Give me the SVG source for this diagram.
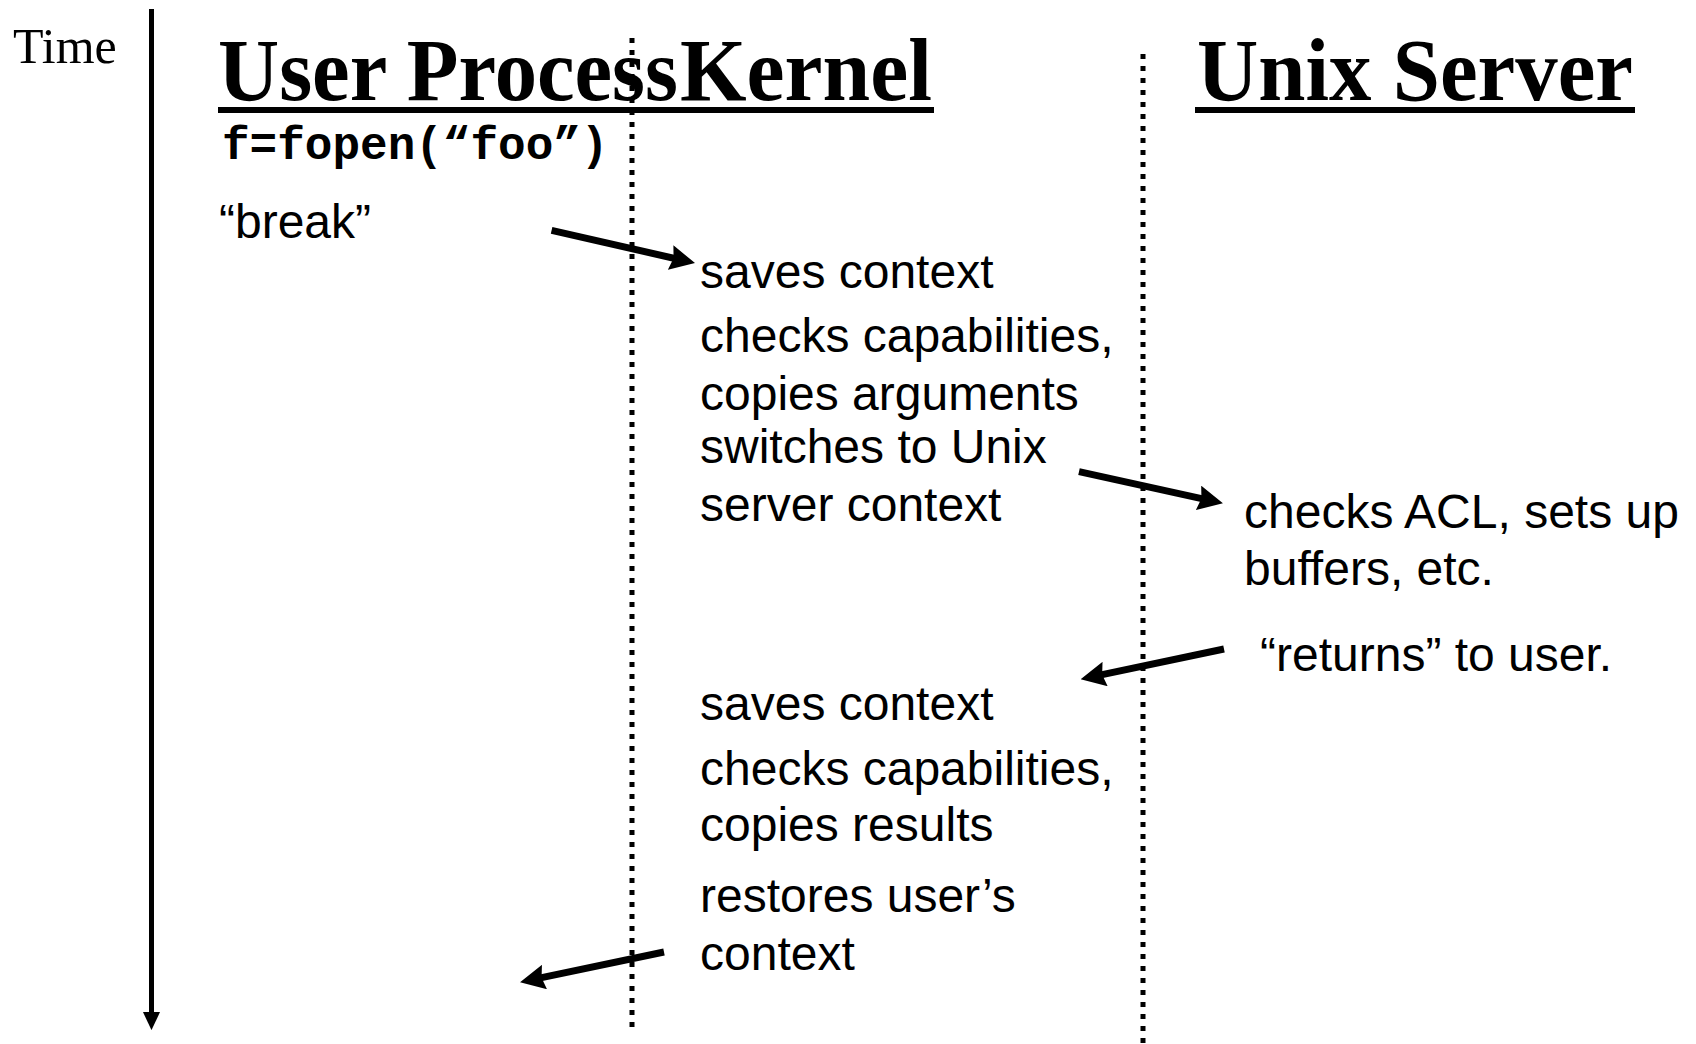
<svg xmlns="http://www.w3.org/2000/svg" width="1696" height="1044" viewBox="0 0 1696 1044">
<style>
.serif{font-family:"Liberation Serif","Times New Roman",serif;fill:#000}
.title{font-family:"Liberation Serif","Times New Roman",serif;font-weight:bold;font-size:88px;fill:#000}
.sans{font-family:"Liberation Sans",Arial,sans-serif;font-size:48px;fill:#000}
.mono{font-family:"Liberation Mono","Courier New",monospace;font-weight:bold;font-size:46px;fill:#000}
.lane{stroke:#000;stroke-width:5;stroke-dasharray:5 7;fill:none}
.arrow{stroke:#000;stroke-width:7;fill:none;marker-end:url(#head)}
.uline{fill:#000}
</style>
<defs>
<marker id="head" markerUnits="userSpaceOnUse" markerWidth="25" markerHeight="25" refX="9" refY="12.5" orient="auto" viewBox="0 0 25 25">
<path d="M0,0 L25,12.5 L0,25 L3,12.5 Z" fill="#000"/>
</marker>
<marker id="timehead" markerUnits="userSpaceOnUse" markerWidth="18" markerHeight="19" refX="2" refY="9" orient="auto" viewBox="0 0 19 18">
<path d="M0,0 L19,9 L0,18 Z" fill="#000"/>
</marker>
</defs>
<g id="time-axis">
<text class="serif" x="13" y="63" font-size="50">Time</text>
<line x1="151.5" y1="9" x2="151.5" y2="1014" stroke="#000" stroke-width="5" marker-end="url(#timehead)"/>
</g>
<g id="lanes">
<line class="lane" x1="632" y1="38" x2="632" y2="1028"/>
<line class="lane" x1="1143" y1="54" x2="1143" y2="1044"/>
</g>
<g id="user-process">
<text class="title" x="218" y="100" textLength="460" lengthAdjust="spacingAndGlyphs">User Process</text>
<rect class="uline" x="218" y="107" width="462" height="6"/>
<text class="mono" x="222" y="159">f=fopen(“foo”)</text>
<text class="sans" x="219" y="238">“break”</text>
</g>
<g id="kernel">
<text class="title" x="680" y="100" textLength="252" lengthAdjust="spacingAndGlyphs">Kernel</text>
<rect class="uline" x="680" y="107" width="254" height="6"/>
<text class="sans" x="700" y="288">saves context</text>
<text class="sans" x="700" y="352">checks capabilities,</text>
<text class="sans" x="700" y="410">copies arguments</text>
<text class="sans" x="700" y="463">switches to Unix</text>
<text class="sans" x="700" y="521">server context</text>
<text class="sans" x="700" y="720">saves context</text>
<text class="sans" x="700" y="785">checks capabilities,</text>
<text class="sans" x="700" y="841">copies results</text>
<text class="sans" x="700" y="912">restores user’s</text>
<text class="sans" x="700" y="970">context</text>
</g>
<g id="unix-server">
<text class="title" x="1197" y="100" textLength="436" lengthAdjust="spacingAndGlyphs">Unix Server</text>
<rect class="uline" x="1195" y="107" width="440" height="6"/>
<text class="sans" x="1244" y="528">checks ACL, sets up</text>
<text class="sans" x="1244" y="585">buffers, etc.</text>
<text class="sans" x="1260" y="671">“returns” to user.</text>
</g>
<g id="connectors">
<line class="arrow" x1="551.6" y1="230.4" x2="679.4" y2="259.5"/>
<line class="arrow" x1="1079" y1="471.6" x2="1207.3" y2="499.8"/>
<line class="arrow" x1="1224" y1="649" x2="1096.3" y2="675.9"/>
<line class="arrow" x1="664" y1="952" x2="535.7" y2="978.9"/>
</g>
</svg>
